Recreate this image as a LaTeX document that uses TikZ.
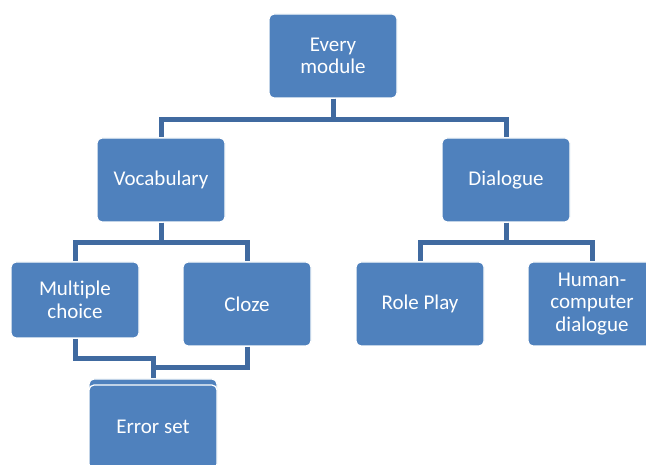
\documentclass[tikz,border=0pt]{standalone}
\usepackage{fontspec}
\setmainfont{Carlito}[Ligatures=NoCommon]
\definecolor{boxblue}{RGB}{79,129,189}
\definecolor{lineblue}{RGB}{64,106,160}

\begin{document}
\begin{tikzpicture}
  [x=1pt,y=-1pt,
  main node/.style={rectangle,rounded corners=5pt,fill=boxblue,draw=white,line width=1.2pt,
    minimum width=128pt,minimum height=84pt,inner sep=0pt,align=center,
    text=white,font=\fontsize{21}{22.5}\selectfont},
  link/.style={draw=lineblue,line width=5pt}]
  \clip (0,0) rectangle (646,465);
  \fill[white] (0,0) rectangle (646,465);

  \node[main node] (1) at (333,56) {Every\\module};
  \node[main node] (2) at (161,180) {\raisebox{-2pt}{Vocabulary}};
  \node[main node] (3) at (506,180) {\raisebox{-2pt}{Dialogue}};
  \node[main node,minimum height=76pt] (4) at (75,300) {Multiple\\choice};
  \node[main node] (5) at (247,304) {\raisebox{-1pt}{Cloze}};
  \node[main node] (6) at (420,304) {\raisebox{-1pt}{Role Play}};
  \node[main node] (7) at (592,304) {Human-\\computer\\dialogue};
  \node[main node] (8) at (153,421) {};
  \node[main node] (9) at (153,427) {\raisebox{-2pt}{Error set}};

  \draw[link] (1.south) -- ++(0,21) -| (2.north);
  \draw[link] (1.south) -- ++(0,21) -| (3.north);
  \draw[link] (2.south) -- ++(0,20) -| (4.north);
  \draw[link] (2.south) -- ++(0,20) -| (5.north);
  \draw[link] (3.south) -- ++(0,20) -| (6.north);
  \draw[link] (3.south) -- ++(0,20) -| (7.north);
  \draw[link] (4.south) -- ++(0,20) -| (8.north);
  \draw[link] (5.south) -- ++(0,21) -| (8.north);
\end{tikzpicture}
\end{document}
